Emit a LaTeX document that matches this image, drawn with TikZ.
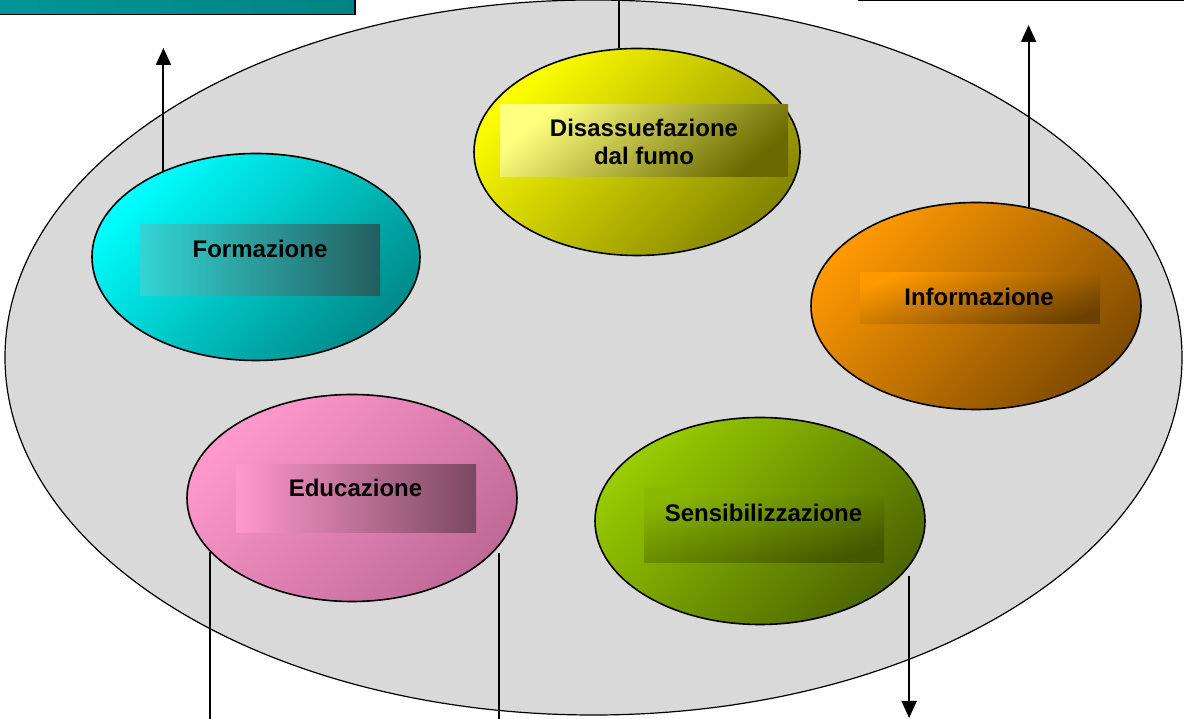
\documentclass[tikz,border=0pt]{standalone}
\usepackage{fontspec}
\setmainfont{Liberation Sans}
\usepackage{tikz}
\usetikzlibrary{shapes.geometric}
\usetikzlibrary{arrows.meta}
\usepackage{xcolor}
\definecolor{ringgray}{HTML}{D9D9D9}
\definecolor{cyanhi}{HTML}{00FFFF}
\definecolor{cyanlo}{HTML}{008A8A}
\definecolor{yelhi}{HTML}{FFFF00}
\definecolor{yello}{HTML}{858500}
\definecolor{orahi}{HTML}{FF9900}
\definecolor{oralo}{HTML}{7F4C00}
\definecolor{grehi}{HTML}{99CC00}
\definecolor{grelo}{HTML}{4C6600}
\definecolor{pinhi}{HTML}{FF99CC}
\definecolor{pinlo}{HTML}{C06A98}

\begin{document}
\begin{tikzpicture}[x=1bp,y=1bp,
  bubble/.style={ellipse,draw=black,line width=1.6bp,inner sep=0pt,minimum width=328bp,minimum height=207bp},
  tag/.style={rectangle,inner sep=0pt,draw=none,minimum width=240bp},
  lbl/.style={font=\fontsize{24bp}{28bp}\selectfont\bfseries,align=center,inner sep=0pt},
  arr/.style={line width=2bp,-{Triangle[width=15bp,length=17bp]}},
  link/.style={line width=2bp}]
\useasboundingbox (0,0) rectangle (1184,719);
\clip (0,0) rectangle (1184,719);
% boxes above, only their lower edges show
\draw[line width=1.8bp,left color=cyanlo!90!cyanhi,right color=cyanlo!95!black] (-5,704.5) rectangle (355,730);
\draw[line width=1.8bp,fill=white] (859,718.5) rectangle (1190,740);
% the large ring
\node[ellipse,draw=black,fill=ringgray,line width=1.2bp,inner sep=0pt,minimum width=1177bp,minimum height=715bp] (ring) at (593.5,361.5) {};
% the five bubbles
\node[bubble,top color=cyanhi,bottom color=cyanlo,shading angle=45] (form) at (256,462) {};
\node[bubble,minimum width=326bp,top color=yelhi,bottom color=yello,shading angle=45] (disa) at (637,567) {};
\node[bubble,minimum width=330bp,top color=orahi,bottom color=oralo,shading angle=45] (info) at (976,413) {};
\node[bubble,minimum width=330bp,top color=pinhi,bottom color=pinlo,shading angle=45] (educ) at (352,221) {};
\node[bubble,minimum width=330bp,top color=grehi,bottom color=grelo,shading angle=45] (sens) at (760,198) {};
% label boxes
\node[tag,minimum height=71bp,left color=cyanhi!55!cyanlo!80!white,right color={rgb,255:red,36;green,94;blue,94}] (formBox) at (260,458.5) {};
\node[tag,minimum width=288bp,minimum height=72bp,top color=yelhi!50!white,bottom color=yello!80!black,shading angle=40] (disaBox) at (644,578) {};
\node[tag,minimum height=51bp,top color=orahi,bottom color=oralo!85!black,shading angle=20] (infoBox) at (980,420.5) {};
\node[tag,minimum height=68bp,left color=pinhi,right color={rgb,255:red,122;green,72;blue,98}] (educBox) at (356,220) {};
\node[tag,minimum height=74bp,top color=grehi!90!black,bottom color=grelo!85!black,shading angle=20] (sensBox) at (764,193) {};
% texts
\node[lbl] (formTxt) at (260,470) {Formazione};
\node[lbl] (disaTxt) at (644,577) {Disassuefazione\\dal fumo};
\node[lbl] (infoTxt) at (979,422) {Informazione};
\node[lbl] (educTxt) at (355.5,231) {Educazione};
\node[lbl] (sensTxt) at (763.5,206) {Sensibilizzazione};
% free ends of the connectors
\coordinate (formEnd) at (163,671);
\coordinate (disaEnd) at (619,730);
\coordinate (infoEnd) at (1028,694);
\coordinate (educEnd) at (211,-5);
\coordinate (sensEnd) at (908,1);
% connectors
\draw[arr] (form.137) -- (form.137 |- formEnd);
\draw[link] (disa.100) -- (disa.100 |- disaEnd);
\draw[arr] (info.62) -- (info.62 |- infoEnd);
\draw[link] (educ.201) -- (educ.201 |- educEnd);
\draw[link,shorten <=7bp] (educ.342) -- (educ.342 |- educEnd);
\draw[arr,shorten <=9bp] (sens.343) -- (sens.343 |- sensEnd);
\end{tikzpicture}
\end{document}
